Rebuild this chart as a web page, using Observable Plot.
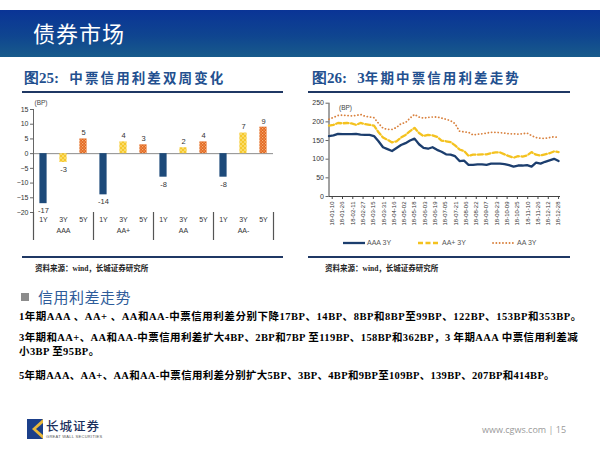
<!DOCTYPE html>
<html><head><meta charset="utf-8">
<script src="https://cdn.jsdelivr.net/npm/d3@7"></script>
<script src="https://cdn.jsdelivr.net/npm/@observablehq/plot@0.6"></script>
<style>
body{margin:0;background:#fff;}
#page{position:relative;width:600px;height:450px;overflow:hidden;background:#fff;font-family:"Noto Sans CJK SC",sans-serif;}
.abs{position:absolute;white-space:nowrap;}
#band{left:0;top:10px;width:600px;height:47px;background:linear-gradient(180deg,#0a3496 0%,#0f4590 55%,#185b8b 100%);}
#bandTitle{left:33px;top:16px;color:#fff;font-size:22px;letter-spacing:1px;font-weight:400;line-height:32px;}
.figTitle{color:#23508f;font-size:13.5px;font-weight:700;line-height:16px;letter-spacing:2.1px;}
.figTitle b{font-family:"Liberation Serif",serif;font-size:15px;letter-spacing:0;}
.rule{height:2px;background:#1f3864;}
.src{font-family:"Liberation Serif","Noto Sans CJK SC",serif;font-size:7.5px;color:#222;font-weight:700;line-height:10px;}
.para{font-family:"Liberation Serif","Noto Sans CJK SC",serif;font-weight:700;font-size:10.5px;color:#000;line-height:14px;}
.leg{font-family:"Liberation Sans",Arial,sans-serif;font-size:7px;color:#555;line-height:10px;}
</style></head><body>
<div id="page">
  <svg width="0" height="0" style="position:absolute">
    <defs>
      <pattern id="p3y" width="4" height="4" patternUnits="userSpaceOnUse">
        <rect width="4" height="4" fill="#f6c82c"/>
        <circle cx="1" cy="1" r="0.8" fill="#fff3b8"/>
        <circle cx="3" cy="3" r="0.8" fill="#fff3b8"/>
      </pattern>
      <pattern id="p5y" width="3" height="3" patternUnits="userSpaceOnUse">
        <rect width="3" height="3" fill="#e2661f"/>
        <rect x="0" y="0" width="1.2" height="1.2" fill="#f6b27a"/>
        <rect x="1.5" y="1.5" width="1.2" height="1.2" fill="#f6b27a"/>
      </pattern>
    </defs>
  </svg>
  <div id="band" class="abs"></div>
  <div id="bandTitle" class="abs">债券市场</div>

  <div class="abs figTitle" style="left:24px;top:69px;"><b>图25:</b>&nbsp; 中票信用利差双周变化</div>
  <div class="abs rule" style="left:22px;top:91px;width:261px;"></div>
  <div id="leftChart" class="abs" style="left:10px;top:95px;"></div>
  <div class="abs rule" style="left:22px;top:256px;width:261px;"></div>
  <div class="abs src" style="left:35px;top:264px;">资料来源：wind，长城证券研究所</div>

  <div class="abs figTitle" style="left:312px;top:69px;"><b>图26:</b>&nbsp; <b>3</b>年期中票信用利差走势</div>
  <div class="abs rule" style="left:308px;top:91px;width:262px;"></div>
  <div id="rightChart" class="abs" style="left:305px;top:93px;"></div>
  <div id="legend" class="abs leg" style="left:342px;top:238px;"></div>
  <div class="abs rule" style="left:308px;top:256px;width:262px;"></div>
  <div class="abs src" style="left:325px;top:264px;">资料来源：wind，长城证券研究所</div>

  <div class="abs" style="left:21px;top:293px;width:8px;height:8px;background:#8c8c8c;"></div>
  <div class="abs" style="left:38px;top:286px;font-size:15px;color:#2e5c9a;line-height:22px;letter-spacing:0.5px;">信用利差走势</div>
  <div class="abs para" style="left:19px;top:310px;letter-spacing:0.53px;">1年期AAA 、AA+ 、AA和AA-中票信用利差分别下降17BP、14BP、8BP和8BP至99BP、122BP、153BP和353BP。</div>
  <div class="abs para" style="left:19px;top:331px;letter-spacing:0.4px;">3年期和AA+、AA和AA-中票信用利差扩大4BP、2BP和7BP 至119BP、158BP和362BP，3 年期AAA 中票信用利差减<br>小3BP 至95BP。</div>
  <div class="abs para" style="left:19px;top:369px;letter-spacing:0.3px;">5年期AAA、AA+、AA和AA-中票信用利差分别扩大5BP、3BP、4BP和9BP至109BP、139BP、207BP和414BP。</div>

  <svg class="abs" style="left:27px;top:419px;" width="16" height="20" viewBox="0 0 16 20">
    <rect width="16" height="20" fill="#1b3f8a"/>
    <path d="M16 0 L5 10 L16 20 Z" fill="#e9b83a"/>
    <path d="M16 4 L9 10 L16 16 Z" fill="#1b3f8a"/>
  </svg>
  <div class="abs" style="left:46px;top:418px;font-size:12.5px;color:#1b2f5c;letter-spacing:1px;line-height:16px;font-weight:500;">长城证券</div>
  <div class="abs" style="left:46px;top:434px;font-size:4px;color:#555;font-family:'Liberation Sans',sans-serif;line-height:5px;letter-spacing:0.3px;">GREAT WALL SECURITIES</div>
  <div class="abs" style="left:482px;top:424px;font-size:9px;color:#9a9a9a;font-family:'Open Sans','Liberation Sans',sans-serif;line-height:12px;">www.cgws.com | 15</div>
</div>
<script>
// ---------- Figure 25 data ----------
const groups = ["AAA", "AA+", "AA", "AA-"];
const tenors = ["1Y", "3Y", "5Y"];
const change1Y = [-17, -14, -8, -8];
const change3Y = [-3, 4, 2, 7];
const change5Y = [5, 3, 4, 9];
const yTicksLeft = [-20, -15, -10, -5, 0, 5, 10, 15];

// ---------- Figure 26 data ----------
const dates = ["2018-01-05","2018-01-12","2018-01-19","2018-01-26","2018-02-02","2018-02-09","2018-02-16","2018-02-23","2018-03-02","2018-03-09","2018-03-16","2018-03-23","2018-03-30","2018-04-06","2018-04-13","2018-04-20","2018-04-27","2018-05-04","2018-05-11","2018-05-18","2018-05-25","2018-06-01","2018-06-08","2018-06-15","2018-06-22","2018-06-29","2018-07-06","2018-07-13","2018-07-20","2018-07-27","2018-08-03","2018-08-10","2018-08-17","2018-08-24","2018-08-31","2018-09-07","2018-09-14","2018-09-21","2018-09-28","2018-10-05","2018-10-12","2018-10-19","2018-10-26","2018-11-02","2018-11-09","2018-11-16","2018-11-23","2018-11-30","2018-12-07","2018-12-14","2018-12-21","2018-12-28"];
const aaa3Y = [162,164,168,167,167,167,168,166,165,165,162,148,132,127,122,130,138,143,150,155,140,130,128,132,125,120,113,112,108,95,96,85,85,86,86,85,88,88,88,87,84,80,83,83,84,80,91,88,93,97,101,95];
const aaPlus3Y = [190,192,197,196,197,196,192,197,194,192,190,172,158,152,145,148,158,165,175,184,170,162,165,164,160,150,148,146,137,126,122,109,112,112,113,113,116,118,118,113,108,104,108,107,110,119,112,110,113,116,121,119];
const aa3Y = [207,212,217,218,217,216,217,220,215,213,211,196,183,180,180,185,195,198,210,220,213,210,212,213,213,210,207,203,195,175,173,172,165,167,168,170,172,172,171,170,168,168,167,168,170,163,158,156,156,158,160,158];
const dateTicks = ["2018-01-10","2018-01-26","2018-02-11","2018-02-27","2018-03-15","2018-03-31","2018-04-16","2018-05-02","2018-05-18","2018-06-03","2018-06-19","2018-07-05","2018-07-21","2018-08-06","2018-08-22","2018-09-07","2018-09-23","2018-10-09","2018-10-25","2018-11-10","2018-11-26","2018-12-12","2018-12-28"];
const yTicksRight = [0, 50, 100, 150, 200, 250];
const seriesNames = ["AAA 3Y", "AA+ 3Y", "AA 3Y"];

// ---------- Figure 25 ----------
const changes = [change1Y, change3Y, change5Y];
const bars = [];
groups.forEach((g, i) => tenors.forEach((t, j) => bars.push({slot: i * 3 + j, group: g, tenor: t, value: changes[j][i]})));
const colors = {"1Y": "#1d4a7a", "3Y": "#f6c82c", "5Y": "#e2661f"};
const hw = 0.18;
const slots = bars.map(d => d.slot);
const groupCenters = groups.map((g, i) => i * 3 + 1);
const separators = [-0.5, ...groups.map((g, i) => i * 3 + 2.5)];

const left = Plot.plot({
  width: 280, height: 150,
  marginLeft: 23, marginRight: 17, marginTop: 14, marginBottom: 33,
  x: {domain: [-0.5, 11.5]},
  y: {domain: [-20, 15]},
  style: {fontFamily: "'Liberation Sans', Arial, sans-serif", fontSize: "7px", color: "#333", background: "transparent", overflow: "visible"},
  marks: [
    Plot.ruleY([0], {stroke: "#8c8c8c", strokeWidth: 1}),
    ...tenors.map(t => Plot.rect(bars.filter(d => d.tenor === t), {
      x1: d => d.slot - hw, x2: d => d.slot + hw, y1: 0, y2: "value", fill: colors[t]
    })),
    Plot.ruleX([-0.5], {stroke: "#666", strokeWidth: 1}),
    Plot.axisY(yTicksLeft, {tickSize: 3, tickPadding: 2, fontSize: 7, label: null, stroke: "#666"}),
    Plot.axisX(separators, {tickSize: 28, tickFormat: () => "", label: null, stroke: "#555", strokeWidth: 1.2}),
    Plot.axisX(slots, {tickSize: 0, tickPadding: 5, tickFormat: i => tenors[i % 3], label: null, fontSize: 7}),
    Plot.axisX(groupCenters, {tickSize: 0, tickPadding: 16, tickFormat: i => groups[(i - 1) / 3], label: null, fontSize: 7}),
    Plot.text(["(BP)"], {frameAnchor: "top-left", dx: 1, dy: -9, textAnchor: "start", fontSize: 6.5, fill: "#444"}),
    Plot.text(bars.filter(d => d.value >= 0), {x: "slot", y: "value", text: d => String(d.value), dy: -6, fontSize: 7.5, fill: "#333"}),
    Plot.text(bars.filter(d => d.value < 0), {x: "slot", y: "value", text: d => String(d.value), dy: 7, fontSize: 7.5, fill: "#333"})
  ]
});
d3.select(left).selectAll("g[fill='#f6c82c']").attr("fill", "url(#p3y)");
d3.select(left).selectAll("g[fill='#e2661f']").attr("fill", "url(#p5y)");
document.getElementById("leftChart").appendChild(left);

// ---------- Figure 26 ----------
const parse = s => new Date(s + "T00:00:00Z");
const seriesValues = [aaa3Y, aaPlus3Y, aa3Y];
const rows = seriesValues.map(vals => dates.map((d, i) => ({date: parse(d), value: vals[i]})));
const lineStyles = [
  {stroke: "#1c3e6e", strokeWidth: 2.3},
  {stroke: "#f4c21f", strokeWidth: 2.3, strokeDasharray: "5,2.5"},
  {stroke: "#d9823f", strokeWidth: 1.8, strokeDasharray: "0.1,3.2", strokeLinecap: "round"}
];
const right = Plot.plot({
  width: 270, height: 137,
  marginLeft: 23.5, marginRight: 15, marginTop: 9.7, marginBottom: 34,
  x: {type: "utc", domain: [parse(dates[0]), parse("2018-12-31")]},
  y: {domain: [0, 250]},
  style: {fontFamily: "'Liberation Sans', Arial, sans-serif", fontSize: "7px", color: "#333", background: "transparent", overflow: "visible"},
  marks: [
    Plot.axisY(yTicksRight, {tickSize: 3, tickPadding: 2, fontSize: 7, label: null, stroke: "#666"}),
    Plot.axisX(dateTicks.map(parse), {tickSize: 3, tickPadding: 2, tickRotate: -90, tickFormat: d3.utcFormat("%y-%m-%d"), fontSize: 6, label: null, stroke: "#444"}),
    Plot.ruleY([0], {stroke: "#444"}),
    Plot.ruleX([parse(dates[0])], {stroke: "#444"}),
    Plot.lineY(rows[2], {x: "date", y: "value", ...lineStyles[2]}),
    Plot.lineY(rows[1], {x: "date", y: "value", ...lineStyles[1]}),
    Plot.lineY(rows[0], {x: "date", y: "value", ...lineStyles[0]}),
    Plot.text(["(BP)"], {frameAnchor: "top-left", dx: 10, dy: 2, textAnchor: "start", fontSize: 6.5, fill: "#444"})
  ]
});
document.getElementById("rightChart").appendChild(right);

// legend
const legend = document.getElementById("legend");
const offsets = [0, 75, 150];
seriesNames.forEach((name, i) => {
  const item = document.createElement("div");
  item.style.cssText = `position:absolute;left:${offsets[i]}px;top:0;white-space:nowrap;display:flex;align-items:center;`;
  const s = lineStyles[i];
  item.innerHTML = `<svg width="24" height="10"><line x1="1" x2="23" y1="5" y2="5" stroke="${s.stroke}" stroke-width="${s.strokeWidth}" ${s.strokeDasharray ? `stroke-dasharray="${s.strokeDasharray}"` : ""} ${s.strokeLinecap ? `stroke-linecap="${s.strokeLinecap}"` : ""}/></svg><span style="margin-left:1px">${name}</span>`;
  legend.appendChild(item);
});
</script>
</body></html>
